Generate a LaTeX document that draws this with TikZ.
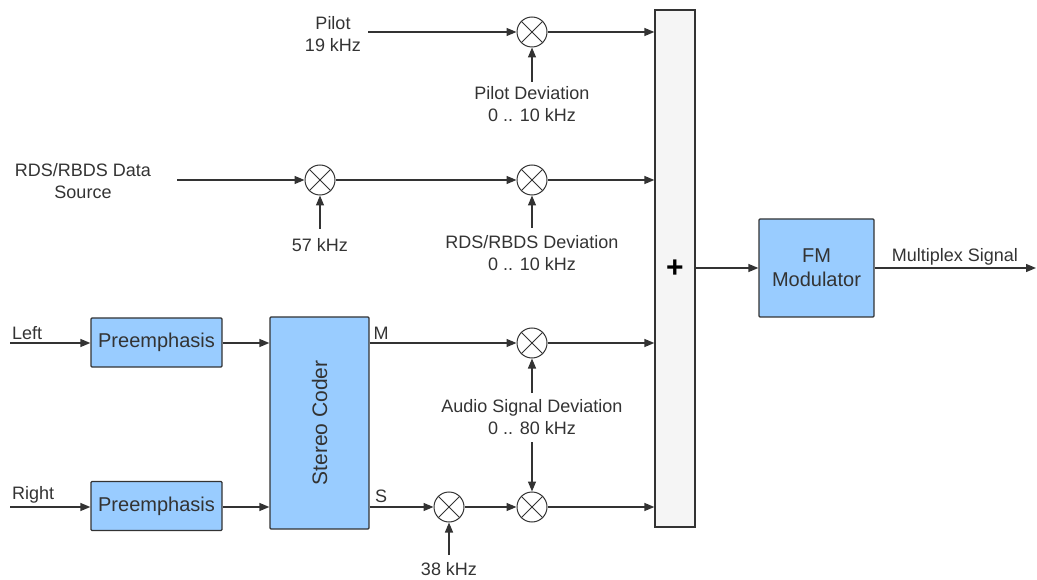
\documentclass[tikz,border=0pt]{standalone}
\usepackage{fontspec}
\setmainfont{Liberation Sans}
\usetikzlibrary{arrows.meta,calc}
\definecolor{boxblue}{HTML}{99CCFF}
\definecolor{ink}{HTML}{333333}
\definecolor{barfill}{HTML}{F5F5F5}
\begin{document}
\begin{tikzpicture}[x=1pt,y=-1pt,
 blk/.style={draw=ink, fill=boxblue, line width=1.3pt, rounded corners=1pt, inner sep=0pt, font=\fontsize{20}{24}\selectfont, text=ink, align=center},
 mult/.style={circle, draw=ink, line width=1pt, minimum size=30pt, inner sep=0pt, path picture={
   \draw[ink, line width=1pt] (path picture bounding box.north west) -- (path picture bounding box.south east)
     (path picture bounding box.north east) -- (path picture bounding box.south west);}},
 lbl/.style={font=\fontsize{18}{22}\selectfont, text=ink, align=center, inner sep=0pt},
 sig/.style={draw=ink, line width=1.3pt, -{Triangle[length=10pt,width=8pt]}},
]
\useasboundingbox (0,0) rectangle (1037,580);

% blocks
\node[blk, minimum width=131pt, minimum height=49pt] (pl) at (156.5,342.5) {Preemphasis};
\node[blk, minimum width=131pt, minimum height=49pt] (pr) at (156.5,506) {Preemphasis};
\node[blk, minimum width=99pt, minimum height=212pt] (sc) at (319.5,423) {};
\node[font=\fontsize{21}{24}\selectfont, text=ink, rotate=90] (sct) at (sc.center) {Stereo Coder};
\node[blk, minimum width=115pt, minimum height=98pt] (fm) at (816.5,268) {FM\\Modulator};
\node[draw=ink, fill=barfill, line width=1.3pt, minimum width=40pt, minimum height=517pt, inner sep=0pt,
      font=\fontsize{30}{30}\selectfont\bfseries, text=black] (sum) at (675,268.5) {+};

% multipliers
\node[mult] (p1) at (532,32) {};
\node[mult] (r1) at (320,180) {};
\node[mult] (r2) at (532,180) {};
\node[mult] (a1) at (532,343) {};
\node[mult] (s1) at (449,507) {};
\node[mult] (s2) at (532,507) {};

% labels
\node[lbl] (pilot) at (333,34) {Pilot\\19 kHz};
\node[lbl] (pdev) at (532,104) {Pilot Deviation\\0 .. 10 kHz};
\node[lbl] (rds) at (83,181) {RDS/RBDS Data\\Source};
\node[lbl] (f57) at (320,245) {57 kHz};
\node[lbl] (rdev) at (532,253) {RDS/RBDS Deviation\\0 .. 10 kHz};
\node[lbl, anchor=west] (left) at (12,333) {Left};
\node[lbl, anchor=west] (right) at (12,495) {Right};
\node[lbl] (mlab) at (381,333) {M};
\node[lbl] (slab) at (381,496) {S};
\node[lbl] (adev) at (532,417) {Audio Signal Deviation\\0 .. 80 kHz};
\node[lbl] (f38) at (449,569) {38 kHz};
\node[lbl] (mux) at (955,257) {Multiplex Signal};

% free-end coordinates
\coordinate (pilotS) at (368,32);
\coordinate (pdevS) at (532,82);
\coordinate (rdsS) at (177,180);
\coordinate (f57S) at (320,229);
\coordinate (rdevS) at (532,228);
\coordinate (leftS) at (10,343);
\coordinate (rightS) at (10,507);
\coordinate (adevU) at (532,393);
\coordinate (adevD) at (532,442);
\coordinate (f38S) at (449,555);
\coordinate (outE) at (1036,268);

% connectors
\draw[sig] (pilotS) -- (p1);
\draw[sig] (p1) -- (p1 -| sum.west);
\draw[sig] (pdevS) -- (p1);
\draw[sig] (rdsS) -- (r1);
\draw[sig] (f57S) -- (r1);
\draw[sig] (r1) -- (r2);
\draw[sig] (rdevS) -- (r2);
\draw[sig] (r2) -- (r2 -| sum.west);
\draw[sig] (leftS) -- (leftS -| pl.west);
\draw[sig] (rightS) -- (rightS -| pr.west);
\draw[sig] (pl.east |- leftS) -- (leftS -| sc.west);
\draw[sig] (pr.east |- rightS) -- (rightS -| sc.west);
\draw[sig] (sc.east |- a1) -- (a1);
\draw[sig] (a1) -- (a1 -| sum.west);
\draw[sig] (adevU) -- (a1);
\draw[sig] (adevD) -- (s2);
\draw[sig] (sc.east |- s1) -- (s1);
\draw[sig] (f38S) -- (s1);
\draw[sig] (s1) -- (s2);
\draw[sig] (s2) -- (s2 -| sum.west);
\draw[sig] (sum.east |- fm.west) -- (fm.west);
\draw[sig] (fm.east) -- (outE);
\end{tikzpicture}
\end{document}
